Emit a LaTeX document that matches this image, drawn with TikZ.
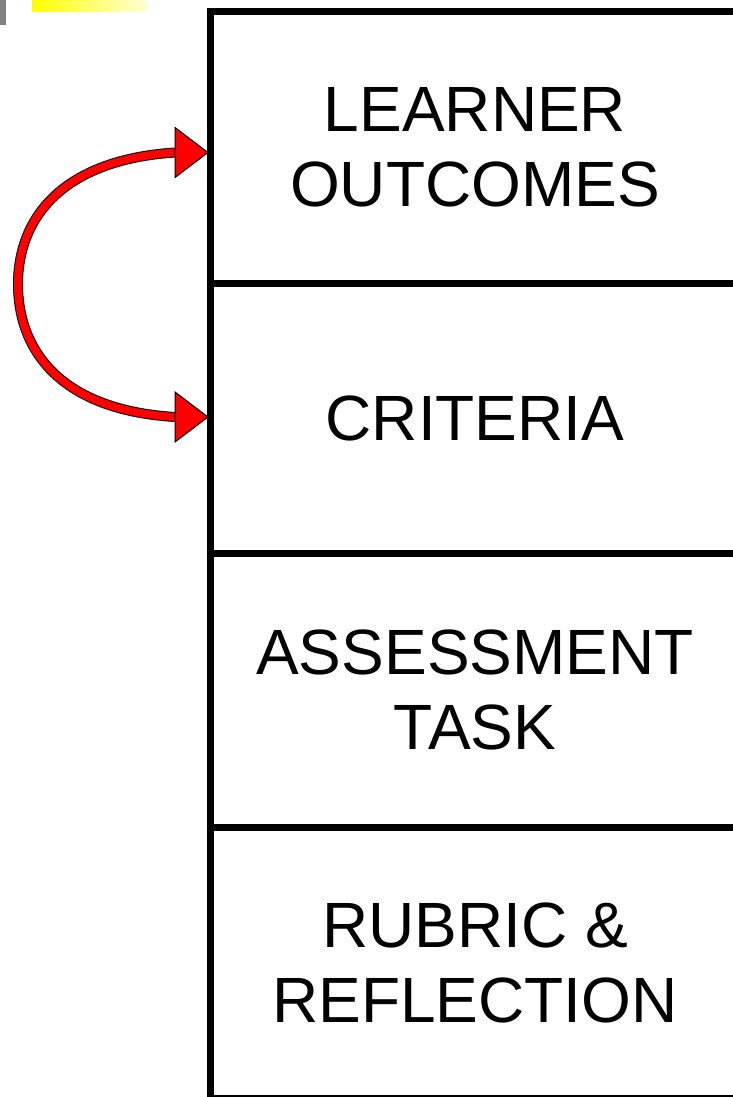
\documentclass[tikz,border=0pt]{standalone}
\usepackage{fontspec}
\setmainfont{Liberation Sans}
\usetikzlibrary{calc}
\definecolor{paleyellow}{RGB}{255,255,215}
\definecolor{bargray}{RGB}{128,128,128}
\begin{document}
\begin{tikzpicture}[x=1pt,y=-1pt,
  box/.style={draw, line width=7pt, minimum width=530pt, inner sep=0pt, outer sep=0pt, anchor=north west, align=center, font=\fontsize{64}{75}\selectfont},
  arrowhead/.style={fill=red, draw=black, line width=1pt, line join=miter}]
\useasboundingbox (0,0) rectangle (733,1097);
\clip (0,0) rectangle (733,1097);
% top-left decorations
\fill[bargray] (0,0) rectangle (6,25);
\shade[left color=yellow, right color=paleyellow] (32,0) rectangle (147,12);
% boxes
\node[box, minimum height=271pt] (b1) at (210,12) {LEARNER\\OUTCOMES};
\node[box, minimum height=270pt] (b2) at (210,283) {CRITERIA};
\node[box, minimum height=274pt] (b3) at (210,553) {ASSESSMENT\\TASK};
\node[box, minimum height=271pt] (b4) at (210,827) {RUBRIC \&\\REFLECTION};
% curved double arrow
\coordinate (t1) at ($(b1.west)+(-2,5)$);
\coordinate (t2) at ($(b2.west)+(-2,-1)$);
\coordinate (s1) at ($(t1)+(-33,0)$);
\coordinate (s2) at ($(t2)+(-33,0)$);
\draw[line width=10pt, black] (s1) .. controls (60,160) and (18,220) .. (18,284) .. controls (18,350) and (60,410) .. (s2);
\draw[line width=8pt, red] (s1) .. controls (60,160) and (18,220) .. (18,284) .. controls (18,350) and (60,410) .. (s2);
\draw[arrowhead] ($(s1)+(0,-25)$) -- (t1) -- ($(s1)+(0,25)$) -- cycle;
\draw[arrowhead] ($(s2)+(0,-25)$) -- (t2) -- ($(s2)+(0,25)$) -- cycle;
\end{tikzpicture}
\end{document}
